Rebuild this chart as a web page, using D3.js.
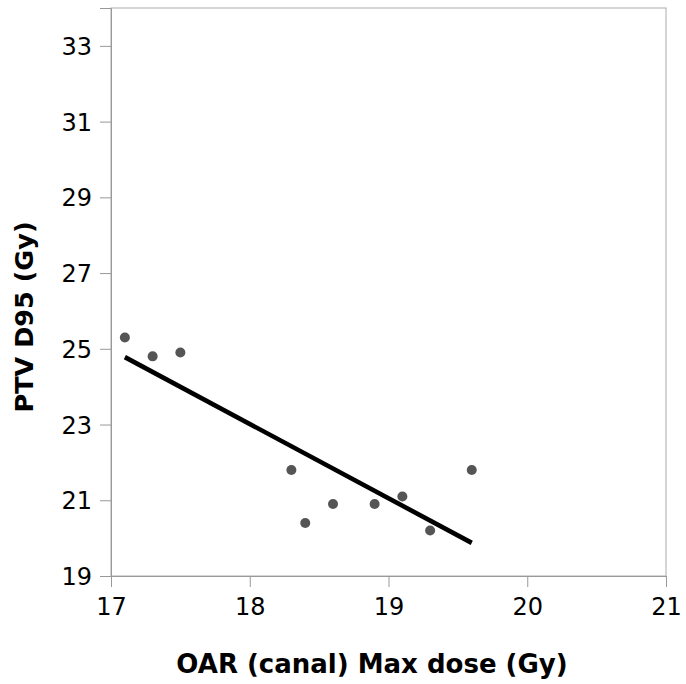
<!DOCTYPE html>
<html>
<head>
<meta charset="utf-8">
<script src="https://cdn.jsdelivr.net/npm/d3@7"></script>
<style>
  body { margin: 0; background: #fff; }
  svg { display: block; font-family: "DejaVu Sans", sans-serif; }
</style>
</head>
<body>
<div id="chart"></div>
<script>
const canalMax = [17.1, 17.3, 17.5, 18.3, 18.4, 18.6, 18.9, 19.1, 19.3, 19.6];
const ptvD95 = [25.3, 24.8, 24.9, 21.8, 20.4, 20.9, 20.9, 21.1, 20.2, 21.8];
const xTicks = [17, 18, 19, 20, 21];
const yTicks = [19, 21, 23, 25, 27, 29, 31, 33];

const width = 686;
const height = 684;
const margin = {top: 8, right: 20, bottom: 108, left: 111};

const svg = d3.select("#chart").append("svg")
  .attr("width", width)
  .attr("height", height);

const x = d3.scaleLinear().domain([17, 21]).range([margin.left, width - margin.right]);
const y = d3.scaleLinear().domain([19, 34]).range([height - margin.bottom, margin.top]);

// frame
svg.append("rect")
  .attr("x", margin.left)
  .attr("y", margin.top)
  .attr("width", x(21) - margin.left)
  .attr("height", y(19) - margin.top)
  .attr("fill", "none")
  .attr("stroke", "#aaa");

function styleAxis(g) {
  g.attr("font-family", "DejaVu Sans").attr("font-size", 24);
  g.select(".domain").attr("stroke", "#999");
  g.selectAll(".tick line").attr("stroke", "#999");
  g.selectAll(".tick text").attr("fill", "#000");
}

svg.append("g")
  .attr("transform", `translate(0,${y(19)})`)
  .call(d3.axisBottom(x).tickValues(xTicks).tickFormat(d3.format("d")).tickSize(11).tickPadding(11))
  .call(styleAxis);

svg.append("g")
  .attr("transform", `translate(${margin.left},0)`)
  .call(d3.axisLeft(y).tickValues(yTicks).tickFormat(d3.format("d")).tickSize(11).tickPadding(8))
  .call(styleAxis)
  .call((g) => g.selectAll(".tick text").attr("dy", "0.36em"));

const points = canalMax.map((v, i) => ({x: v, y: ptvD95[i]}));

svg.append("g")
  .selectAll("circle")
  .data(points)
  .join("circle")
  .attr("cx", (d) => x(d.x))
  .attr("cy", (d) => y(d.y))
  .attr("r", 5)
  .attr("fill", "#555");

// least-squares fit over the data range
const mx = d3.mean(canalMax);
const my = d3.mean(ptvD95);
const slope = d3.sum(points, (d) => (d.x - mx) * (d.y - my)) / d3.sum(points, (d) => (d.x - mx) ** 2);
const fit = d3.extent(canalMax).map((v) => ({x: v, y: my + slope * (v - mx)}));

svg.append("path")
  .datum(fit)
  .attr("fill", "none")
  .attr("stroke", "#000")
  .attr("stroke-width", 4.6)
  .attr("d", d3.line().x((d) => x(d.x)).y((d) => y(d.y)));

svg.append("text")
  .attr("x", 372)
  .attr("y", 673)
  .attr("text-anchor", "middle")
  .attr("font-size", 26)
  .attr("font-weight", "bold")
  .text("OAR (canal) Max dose (Gy)");

svg.append("text")
  .attr("transform", "translate(33,317) rotate(-90)")
  .attr("text-anchor", "middle")
  .attr("font-size", 25.5)
  .attr("font-weight", "bold")
  .text("PTV D95 (Gy)");
</script>
</body>
</html>
